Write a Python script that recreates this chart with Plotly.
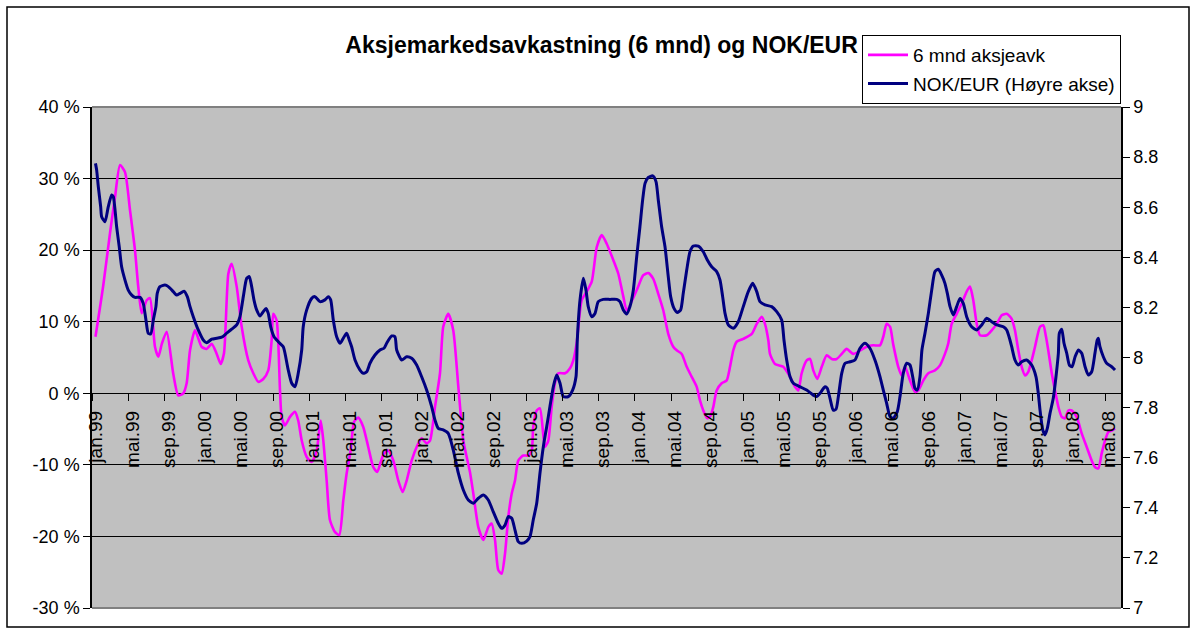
import plotly.graph_objects as go

# ---------------- data ----------------
# time as decimal year
aksje_t = [1999.000, 1999.072, 1999.134, 1999.180, 1999.226, 1999.272, 1999.318, 1999.364, 1999.394, 1999.426,
           1999.472, 1999.502, 1999.548, 1999.579, 1999.613, 1999.656, 1999.717, 1999.763, 1999.809, 1999.840,
           1999.871, 1999.917, 1999.978, 2000.024, 2000.071, 2000.117, 2000.153, 2000.184, 2000.224, 2000.255,
           2000.301, 2000.347, 2000.408, 2000.454, 2000.500, 2000.546, 2000.592, 2000.623, 2000.638, 2000.669,
           2000.700, 2000.715, 2000.746, 2000.792, 2000.838, 2000.868, 2000.900, 2000.946, 2000.992, 2001.038,
           2001.075, 2001.099, 2001.130, 2001.160, 2001.207, 2001.246, 2001.283, 2001.314, 2001.351, 2001.382,
           2001.421, 2001.467, 2001.513, 2001.559, 2001.596, 2001.628, 2001.658, 2001.698, 2001.744, 2001.790,
           2001.830, 2001.867, 2001.913, 2001.959, 2002.005, 2002.051, 2002.082, 2002.128, 2002.174, 2002.204,
           2002.250, 2002.296, 2002.343, 2002.389, 2002.450, 2002.481, 2002.527, 2002.573, 2002.619, 2002.650,
           2002.681, 2002.711, 2002.742, 2002.773, 2002.803, 2002.835, 2002.865, 2002.895, 2002.941, 2002.987,
           2003.019, 2003.033, 2003.065, 2003.095, 2003.141, 2003.172, 2003.203, 2003.233, 2003.264, 2003.326,
           2003.372, 2003.402, 2003.433, 2003.479, 2003.525, 2003.572, 2003.618, 2003.664, 2003.710, 2003.771,
           2003.817, 2003.863, 2003.894, 2003.986, 2004.047, 2004.093, 2004.139, 2004.185, 2004.231, 2004.277,
           2004.323, 2004.355, 2004.401, 2004.447, 2004.493, 2004.539, 2004.569, 2004.600, 2004.637, 2004.668,
           2004.692, 2004.723, 2004.769, 2004.815, 2004.846, 2004.876, 2004.907, 2004.968, 2005.046, 2005.092,
           2005.138, 2005.168, 2005.199, 2005.214, 2005.260, 2005.337, 2005.399, 2005.445, 2005.475, 2005.506,
           2005.552, 2005.583, 2005.613, 2005.650, 2005.691, 2005.737, 2005.783, 2005.829, 2005.875, 2005.921,
           2005.982, 2006.105, 2006.166, 2006.228, 2006.258, 2006.289, 2006.320, 2006.350, 2006.396, 2006.427,
           2006.458, 2006.504, 2006.550, 2006.581, 2006.627, 2006.673, 2006.734, 2006.780, 2006.826, 2006.857,
           2006.888, 2006.934, 2006.980, 2007.026, 2007.057, 2007.087, 2007.119, 2007.149, 2007.211, 2007.257,
           2007.303, 2007.349, 2007.395, 2007.441, 2007.471, 2007.502, 2007.533, 2007.564, 2007.594, 2007.625,
           2007.656, 2007.702, 2007.732, 2007.757, 2007.778, 2007.810, 2007.840, 2007.871, 2007.902, 2007.932,
           2007.963, 2007.994, 2008.040, 2008.086, 2008.132, 2008.178, 2008.208, 2008.239, 2008.270, 2008.301,
           2008.332, 2008.363, 2008.393]
aksje_pct = [7.9, 15.1, 22.4, 27.4, 31.9, 30.9, 25.6, 20.0, 14.9, 11.2,
             13.0, 13.3, 6.5, 5.1, 7.0, 8.6, 2.7, -0.3, 0.0, 1.4,
             6.0, 8.8, 6.5, 6.2, 6.9, 5.5, 4.1, 5.6, 16.7, 18.1,
             14.9, 9.3, 4.6, 2.8, 1.6, 2.0, 3.2, 7.4, 11.1, 10.2,
             0.4, -3.3, -4.5, -3.3, -2.6, -3.8, -6.6, -8.9, -9.6, -8.0,
             -3.8, -6.6, -12.2, -17.7, -19.4, -19.8, -15.0, -11.2, -8.0, -4.0,
             -3.4, -4.7, -7.5, -10.3, -11.0, -9.6, -8.4, -8.0, -9.4, -12.2,
             -13.8, -12.2, -9.4, -7.5, -6.3, -7.0, -6.6, -1.9, 2.8, 9.3,
             11.1, 8.8, 0.9, -6.6, -11.0, -14.0, -18.7, -20.5, -18.7, -18.2,
             -20.5, -24.7, -25.2, -22.4, -17.3, -14.0, -12.2, -9.4, -8.7, -8.7,
             -8.0, -4.7, -2.4, -2.1, -7.5, -6.6, -1.9, 1.4, 2.8, 2.8,
             3.5, 4.6, 7.0, 13.0, 14.2, 15.6, 20.4, 22.1, 20.9, 18.6,
             16.7, 13.5, 11.6, 14.4, 16.5, 16.8, 16.0, 13.9, 11.6, 8.3,
             6.5, 6.0, 5.5, 3.7, 2.3, 0.9, -1.0, -2.4, -3.5, -3.1,
             -1.9, 0.4, 1.4, 1.8, 3.7, 6.0, 7.2, 7.6, 8.3, 9.7,
             10.7, 9.7, 7.4, 5.5, 4.1, 3.7, 2.3, 0.9, 0.4, 2.8,
             4.6, 4.8, 3.2, 2.0, 3.7, 5.3, 4.8, 4.8, 5.5, 6.2,
             5.5, 6.5, 6.7, 6.7, 7.9, 9.7, 9.3, 6.8, 3.7, 2.5,
             3.7, 1.8, 0.2, 0.4, 1.8, 2.8, 3.2, 3.9, 5.5, 7.0,
             9.7, 11.1, 12.5, 14.2, 14.9, 13.0, 9.7, 8.1, 8.1, 8.8,
             9.7, 10.9, 11.1, 10.4, 8.8, 6.0, 3.7, 2.5, 3.0, 4.6,
             6.5, 9.3, 9.5, 7.9, 6.0, 2.8, 0.4, -1.9, -3.3, -3.5,
             -2.4, -2.4, -3.3, -5.6, -7.5, -9.4, -10.3, -10.5, -8.4, -6.6,
             -5.4, -5.2, -4.9]

nok_t = [1999.000, 1999.011, 1999.026, 1999.048, 1999.057, 1999.088, 1999.118, 1999.149, 1999.164, 1999.195,
         1999.219, 1999.241, 1999.272, 1999.302, 1999.334, 1999.364, 1999.410, 1999.440, 1999.465, 1999.486,
         1999.509, 1999.533, 1999.557, 1999.569, 1999.594, 1999.640, 1999.671, 1999.717, 1999.748, 1999.779,
         1999.815, 1999.846, 1999.871, 1999.901, 1999.947, 1999.993, 2000.024, 2000.071, 2000.117, 2000.163,
         2000.209, 2000.255, 2000.301, 2000.331, 2000.362, 2000.393, 2000.417, 2000.439, 2000.460, 2000.485,
         2000.516, 2000.546, 2000.571, 2000.592, 2000.614, 2000.645, 2000.684, 2000.730, 2000.746, 2000.776,
         2000.808, 2000.838, 2000.868, 2000.900, 2000.914, 2000.946, 2000.992, 2001.022, 2001.068, 2001.114,
         2001.145, 2001.167, 2001.191, 2001.222, 2001.253, 2001.283, 2001.314, 2001.338, 2001.360, 2001.391,
         2001.437, 2001.467, 2001.499, 2001.529, 2001.575, 2001.621, 2001.658, 2001.683, 2001.729, 2001.759,
         2001.775, 2001.821, 2001.867, 2001.913, 2001.959, 2002.005, 2002.051, 2002.097, 2002.128, 2002.158,
         2002.204, 2002.250, 2002.296, 2002.343, 2002.389, 2002.435, 2002.481, 2002.527, 2002.573, 2002.619,
         2002.665, 2002.711, 2002.742, 2002.773, 2002.803, 2002.835, 2002.865, 2002.895, 2002.927, 2002.973,
         2003.003, 2003.033, 2003.065, 2003.095, 2003.126, 2003.157, 2003.187, 2003.218, 2003.249, 2003.280,
         2003.310, 2003.356, 2003.396, 2003.427, 2003.439, 2003.464, 2003.495, 2003.519, 2003.540, 2003.572,
         2003.602, 2003.632, 2003.678, 2003.740, 2003.802, 2003.832, 2003.863, 2003.894, 2003.924, 2003.955,
         2003.986, 2004.016, 2004.041, 2004.063, 2004.093, 2004.134, 2004.164, 2004.185, 2004.216, 2004.247,
         2004.277, 2004.299, 2004.330, 2004.360, 2004.391, 2004.415, 2004.447, 2004.477, 2004.508, 2004.554,
         2004.600, 2004.637, 2004.677, 2004.723, 2004.754, 2004.778, 2004.800, 2004.830, 2004.876, 2004.922,
         2004.968, 2005.014, 2005.055, 2005.092, 2005.122, 2005.168, 2005.230, 2005.276, 2005.322, 2005.343,
         2005.368, 2005.399, 2005.429, 2005.491, 2005.552, 2005.613, 2005.645, 2005.675, 2005.721, 2005.742,
         2005.767, 2005.797, 2005.822, 2005.844, 2005.875, 2005.906, 2005.952, 2005.997, 2006.043, 2006.089,
         2006.135, 2006.181, 2006.228, 2006.258, 2006.289, 2006.320, 2006.350, 2006.387, 2006.412, 2006.442,
         2006.474, 2006.504, 2006.529, 2006.550, 2006.571, 2006.596, 2006.614, 2006.642, 2006.673, 2006.704,
         2006.734, 2006.765, 2006.796, 2006.826, 2006.848, 2006.873, 2006.903, 2006.934, 2006.965, 2006.995,
         2007.026, 2007.072, 2007.119, 2007.165, 2007.211, 2007.257, 2007.303, 2007.364, 2007.395, 2007.425,
         2007.441, 2007.471, 2007.502, 2007.533, 2007.579, 2007.625, 2007.665, 2007.686, 2007.702, 2007.727,
         2007.748, 2007.769, 2007.794, 2007.824, 2007.849, 2007.871, 2007.880, 2007.902, 2007.923, 2007.948,
         2007.972, 2007.997, 2008.025, 2008.056, 2008.086, 2008.117, 2008.147, 2008.178, 2008.208, 2008.229,
         2008.239, 2008.254, 2008.285, 2008.316, 2008.362, 2008.393]
nok_eur = [8.775, 8.748, 8.682, 8.602, 8.562, 8.542, 8.602, 8.649, 8.642, 8.522,
           8.442, 8.362, 8.309, 8.269, 8.249, 8.240, 8.240, 8.216, 8.150, 8.097,
           8.094, 8.150, 8.203, 8.256, 8.283, 8.289, 8.283, 8.263, 8.249, 8.256,
           8.265, 8.243, 8.203, 8.163, 8.110, 8.070, 8.059, 8.073, 8.077, 8.081,
           8.097, 8.113, 8.130, 8.163, 8.243, 8.316, 8.323, 8.283, 8.230, 8.190,
           8.166, 8.183, 8.196, 8.176, 8.123, 8.083, 8.063, 8.043, 8.017, 7.950,
           7.897, 7.883, 7.937, 8.030, 8.123, 8.190, 8.236, 8.243, 8.223, 8.230,
           8.243, 8.230, 8.150, 8.083, 8.057, 8.077, 8.097, 8.070, 8.043, 7.990,
           7.950, 7.937, 7.943, 7.977, 8.010, 8.030, 8.037, 8.057, 8.086, 8.083,
           8.030, 7.990, 8.003, 7.997, 7.970, 7.923, 7.870, 7.804, 7.750, 7.717,
           7.711, 7.697, 7.631, 7.538, 7.471, 7.431, 7.418, 7.438, 7.451, 7.431,
           7.384, 7.338, 7.318, 7.331, 7.365, 7.358, 7.311, 7.265, 7.258, 7.267,
           7.285, 7.351, 7.418, 7.538, 7.644, 7.724, 7.804, 7.883, 7.930, 7.897,
           7.844, 7.844, 7.870, 7.923, 8.070, 8.230, 8.316, 8.269, 8.203, 8.163,
           8.176, 8.223, 8.232, 8.232, 8.232, 8.223, 8.190, 8.174, 8.203, 8.269,
           8.402, 8.522, 8.629, 8.695, 8.719, 8.725, 8.702, 8.629, 8.522, 8.442,
           8.323, 8.243, 8.196, 8.180, 8.190, 8.256, 8.349, 8.422, 8.445, 8.445,
           8.422, 8.389, 8.362, 8.343, 8.309, 8.243, 8.176, 8.130, 8.117, 8.143,
           8.203, 8.263, 8.296, 8.263, 8.223, 8.210, 8.203, 8.183, 8.150, 8.070,
           7.990, 7.923, 7.897, 7.883, 7.870, 7.850, 7.844, 7.857, 7.883, 7.877,
           7.837, 7.790, 7.793, 7.844, 7.937, 7.977, 7.983, 7.990, 8.037, 8.057,
           8.037, 7.990, 7.923, 7.870, 7.817, 7.764, 7.757, 7.784, 7.844, 7.937,
           7.977, 7.970, 7.923, 7.877, 7.870, 7.923, 8.030, 8.097, 8.176, 8.269,
           8.343, 8.352, 8.329, 8.296, 8.256, 8.203, 8.170, 8.203, 8.236, 8.216,
           8.163, 8.123, 8.110, 8.130, 8.157, 8.143, 8.130, 8.123, 8.110, 8.070,
           8.043, 7.990, 7.970, 7.983, 7.990, 7.970, 7.923, 7.857, 7.790, 7.711,
           7.691, 7.717, 7.777, 7.837, 7.923, 8.017, 8.097, 8.113, 8.057, 8.017,
           7.970, 7.963, 8.003, 8.030, 8.017, 7.963, 7.930, 7.943, 8.017, 8.070,
           8.077, 8.043, 8.003, 7.977, 7.963, 7.950]

x_tick_labels = ["jan.99", "mai.99", "sep.99", "jan.00", "mai.00", "sep.00", "jan.01", "mai.01",
                 "sep.01", "jan.02", "mai.02", "sep.02", "jan.03", "mai.03", "sep.03", "jan.04",
                 "mai.04", "sep.04", "jan.05", "mai.05", "sep.05", "jan.06", "mai.06", "sep.06",
                 "jan.07", "mai.07", "sep.07", "jan.08", "mai.08"]
left_tick_vals = [-30, -20, -10, 0, 10, 20, 30, 40]
left_tick_text = ["-30 %", "-20 %", "-10 %", "0 %", "10 %", "20 %", "30 %", "40 %"]
right_tick_vals = [7, 7.2, 7.4, 7.6, 7.8, 8, 8.2, 8.4, 8.6, 8.8, 9]
right_tick_text = ["7", "7.2", "7.4", "7.6", "7.8", "8", "8.2", "8.4", "8.6", "8.8", "9"]

title_text = "Aksjemarkedsavkastning (6 mnd) og NOK/EUR"
name_aksje = "6 mnd aksjeavk"
name_nok = "NOK/EUR (Høyre akse)"

# ---------------- derived tick positions ----------------
month_idx = {"jan": 0, "mai": 4, "sep": 8}
TICK_OFFSET = 0.03  # tick marks sit slightly left of their labels
x_tick_pos = [2000 + int(l[-2:]) - (100 if int(l[-2:]) > 50 else 0) + month_idx[l[:3]] / 12 - TICK_OFFSET
              for l in x_tick_labels]

FONT = "Liberation Sans, Arial, sans-serif"
W, H = 1196, 634
ML, MR, MT, MB = 92, 75, 107, 26
PW, PH = W - ML - MR, H - MT - MB

def px(xpix):
    return (xpix - ML) / PW

def py(ypix):
    return (H - MB - ypix) / PH

fig = go.Figure()
fig.add_trace(go.Scatter(x=aksje_t, y=aksje_pct, name=name_aksje, mode="lines",
                         line=dict(color="#FF00FF", width=2.6, shape="spline", smoothing=0.6),
                         legendgroup="a", yaxis="y"))
fig.add_trace(go.Scatter(x=nok_t, y=nok_eur, name=name_nok, mode="lines",
                         line=dict(color="#000080", width=3, shape="spline", smoothing=0.6),
                         legendgroup="b", yaxis="y2"))

fig.update_layout(
    width=W, height=H,
    margin=dict(l=ML, r=MR, t=MT, b=MB, autoexpand=False),
    paper_bgcolor="white",
    plot_bgcolor="#C0C0C0",
    font=dict(family=FONT, size=18, color="black"),
    title=dict(text="<b>" + title_text + "</b>", x=0.503, xanchor="center",
               y=1 - 45 / H, yanchor="middle",
               font=dict(family=FONT, size=23, color="black")),
    showlegend=True,
    legend=dict(x=px(862), y=py(35), xanchor="left", yanchor="top",
                bgcolor="white", bordercolor="black", borderwidth=1,
                font=dict(family=FONT, size=19, color="black"),
                traceorder="grouped", tracegroupgap=1,
                itemwidth=40),
    xaxis=dict(range=[1998.968, 2008.448], anchor="free", position=3 / 7,
               showgrid=False, zeroline=False, showline=False,
               tickmode="array", tickvals=x_tick_pos, ticktext=x_tick_labels,
               ticks="outside", ticklen=7, tickwidth=1, tickcolor="black",
               tickangle=-90, ticklabelshift=4, ticklabelstandoff=2,
               tickfont=dict(family=FONT, size=19, color="black"),
               automargin=False),
    yaxis=dict(range=[-30, 40], tickmode="array", tickvals=left_tick_vals, ticktext=left_tick_text,
               showgrid=True, gridcolor="black", gridwidth=1.3,
               zeroline=False, showline=True, linecolor="black", linewidth=1.5,
               ticks="outside", ticklen=7, tickwidth=1, tickcolor="black",
               tickfont=dict(family=FONT, size=18, color="black"),
               automargin=False),
    yaxis2=dict(range=[7, 9], overlaying="y", side="right", anchor="x",
                tickmode="array", tickvals=right_tick_vals, ticktext=right_tick_text,
                showgrid=False, zeroline=False, showline=True, linecolor="black", linewidth=1.5,
                ticks="outside", ticklen=7, tickwidth=1, tickcolor="black",
                tickfont=dict(family=FONT, size=18, color="black"),
                automargin=False),
    shapes=[
        dict(type="line", xref="paper", yref="paper", x0=0, x1=1, y0=1, y1=1,
             line=dict(color="#808080", width=2), layer="above"),
        dict(type="line", xref="paper", yref="paper", x0=0, x1=1, y0=0, y1=0,
             line=dict(color="#808080", width=2), layer="above"),
        dict(type="rect", xref="paper", yref="paper",
             x0=px(7), x1=px(1189), y0=py(627), y1=py(7),
             line=dict(color="black", width=1.5), fillcolor="rgba(0,0,0,0)", layer="above"),
    ],
)

fig.write_html("out.html", config={"displayModeBar": False},
               post_script="document.body.style.margin='0';")
